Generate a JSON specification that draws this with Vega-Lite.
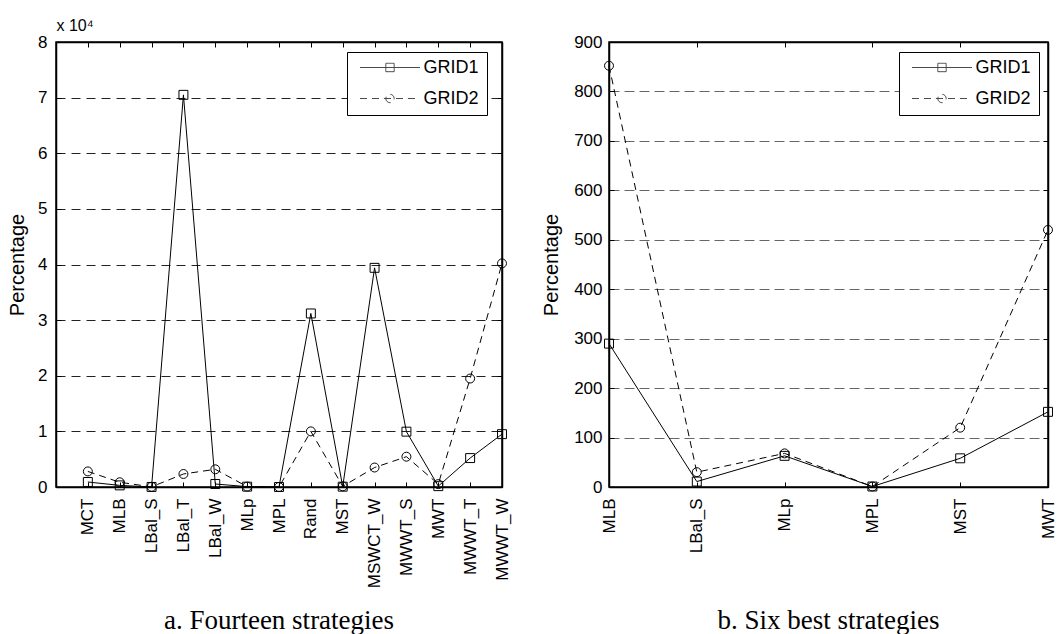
{
  "$schema": "https://vega.github.io/schema/vega-lite/v6.json",
  "padding": {"left": 6, "top": 16, "right": 5, "bottom": 0},
  "background": "white",
  "spacing": 29,
  "resolve": {"scale": {"shape": "independent", "strokeDash": "independent"}, "legend": {"shape": "independent", "strokeDash": "independent"}},
  "config": {
    "view": {"stroke": "black", "strokeWidth": 1.5},
    "axis": {
      "labelFont": "Liberation Sans", "labelFontSize": 17, "labelColor": "black",
      "titleFont": "Liberation Sans", "titleFontSize": 20, "titleFontWeight": "normal", "titleColor": "black",
      "domainColor": "black", "domainWidth": 1.5, "tickColor": "black", "tickWidth": 1, "tickSize": -5
    },
    "legend": {
      "title": null, "symbolSize": 3600, "clipHeight": 16, "rowPadding": 13, "padding": 7.5, "symbolOffset": 5,
      "labelFont": "Liberation Sans", "labelFontSize": 18, "labelColor": "black", "labelOffset": 3,
      "strokeColor": "black", "fillColor": "white", "symbolStrokeColor": "black", "symbolStrokeWidth": 1, "symbolFillColor": "transparent"
    },
    "title": {"font": "Liberation Serif", "fontSize": 27, "fontWeight": "normal", "color": "black"}
  },
  "datasets": {
    "left": [
      {"idx": 1, "name": "MCT", "series": "GRID1", "value": 900},
      {"idx": 2, "name": "MLB", "series": "GRID1", "value": 290},
      {"idx": 3, "name": "LBal_S", "series": "GRID1", "value": 11},
      {"idx": 4, "name": "LBal_T", "series": "GRID1", "value": 70500},
      {"idx": 5, "name": "LBal_W", "series": "GRID1", "value": 540},
      {"idx": 6, "name": "MLp", "series": "GRID1", "value": 63},
      {"idx": 7, "name": "MPL", "series": "GRID1", "value": 1},
      {"idx": 8, "name": "Rand", "series": "GRID1", "value": 31200},
      {"idx": 9, "name": "MST", "series": "GRID1", "value": 58},
      {"idx": 10, "name": "MSWCT_W", "series": "GRID1", "value": 39400},
      {"idx": 11, "name": "MWWT_S", "series": "GRID1", "value": 9950},
      {"idx": 12, "name": "MWT", "series": "GRID1", "value": 152},
      {"idx": 13, "name": "MWWT_T", "series": "GRID1", "value": 5200},
      {"idx": 14, "name": "MWWT_W", "series": "GRID1", "value": 9500},
      {"idx": 1, "name": "MCT", "series": "GRID2", "value": 2800},
      {"idx": 2, "name": "MLB", "series": "GRID2", "value": 852},
      {"idx": 3, "name": "LBal_S", "series": "GRID2", "value": 30},
      {"idx": 4, "name": "LBal_T", "series": "GRID2", "value": 2340},
      {"idx": 5, "name": "LBal_W", "series": "GRID2", "value": 3180},
      {"idx": 6, "name": "MLp", "series": "GRID2", "value": 68},
      {"idx": 7, "name": "MPL", "series": "GRID2", "value": 1},
      {"idx": 8, "name": "Rand", "series": "GRID2", "value": 10000},
      {"idx": 9, "name": "MST", "series": "GRID2", "value": 120},
      {"idx": 10, "name": "MSWCT_W", "series": "GRID2", "value": 3500},
      {"idx": 11, "name": "MWWT_S", "series": "GRID2", "value": 5450},
      {"idx": 12, "name": "MWT", "series": "GRID2", "value": 520},
      {"idx": 13, "name": "MWWT_T", "series": "GRID2", "value": 19500},
      {"idx": 14, "name": "MWWT_W", "series": "GRID2", "value": 40200}
    ],
    "right": [
      {"idx": 1, "name": "MLB", "series": "GRID1", "value": 290},
      {"idx": 2, "name": "LBal_S", "series": "GRID1", "value": 11},
      {"idx": 3, "name": "MLp", "series": "GRID1", "value": 63},
      {"idx": 4, "name": "MPL", "series": "GRID1", "value": 1},
      {"idx": 5, "name": "MST", "series": "GRID1", "value": 58},
      {"idx": 6, "name": "MWT", "series": "GRID1", "value": 152},
      {"idx": 1, "name": "MLB", "series": "GRID2", "value": 852},
      {"idx": 2, "name": "LBal_S", "series": "GRID2", "value": 30},
      {"idx": 3, "name": "MLp", "series": "GRID2", "value": 68},
      {"idx": 4, "name": "MPL", "series": "GRID2", "value": 1},
      {"idx": 5, "name": "MST", "series": "GRID2", "value": 120},
      {"idx": 6, "name": "MWT", "series": "GRID2", "value": 520}
    ]
  },
  "hconcat": [
    {
      "width": 446, "height": 445,
      "data": {"name": "left"},
      "title": {"text": "a. Fourteen strategies", "orient": "bottom", "offset": 20, "anchor": "middle"},
      "resolve": {"axis": {"x": "independent", "y": "independent"}},
      "layer": [
        {
          "transform": [{"filter": "datum.series === 'GRID1'"}],
          "mark": {"type": "line", "color": "black", "strokeWidth": 1},
          "encoding": {
            "x": {"field": "idx", "type": "quantitative", "scale": {"domain": [0, 14], "nice": false, "zero": false},
              "axis": {"orient": "bottom", "values": [1,2,3,4,5,6,7,8,9,10,11,12,13,14], "labelAngle": -90, "labelAlign": "right", "labelBaseline": "middle", "labelPadding": 16, "grid": false, "title": null,
                "labelExpr": "['','MCT','MLB','LBal_S','LBal_T','LBal_W','MLp','MPL','Rand','MST','MSWCT_W','MWWT_S','MWT','MWWT_T','MWWT_W'][datum.value]"}},
            "y": {"field": "value", "type": "quantitative", "scale": {"domain": [0, 80000], "nice": false},
              "axis": {"orient": "left", "values": [0,10000,20000,30000,40000,50000,60000,70000,80000], "labelExpr": "datum.value/10000", "labelPadding": 14, "grid": true, "gridColor": "#222", "gridDash": [9, 6], "gridWidth": 1, "title": "Percentage", "titlePadding": 10}}
          }
        },
        {
          "transform": [{"filter": "datum.series === 'GRID2'"}],
          "mark": {"type": "line", "color": "black", "strokeWidth": 1, "strokeDash": [7, 5]},
          "encoding": {
            "x": {"field": "idx", "type": "quantitative", "axis": null},
            "y": {"field": "value", "type": "quantitative", "axis": null}
          }
        },
        {
          "transform": [{"filter": "datum.series === 'GRID1'"}],
          "mark": {"type": "point", "shape": "square", "filled": false, "color": "black", "strokeWidth": 1, "size": 80, "opacity": 1},
          "encoding": {
            "x": {"field": "idx", "type": "quantitative",
              "axis": {"orient": "top", "values": [1,2,3,4,5,6,7,8,9,10,11,12,13,14], "labels": false, "grid": false, "title": "x 10⁴", "titleFontSize": 16, "titleAngle": 0, "titleAlign": "left", "titleAnchor": "start", "titleBaseline": "alphabetic", "titleX": 0, "titleY": -12}},
            "y": {"field": "value", "type": "quantitative",
              "axis": {"orient": "right", "values": [0,10000,20000,30000,40000,50000,60000,70000,80000], "labels": false, "grid": false, "title": null}}
          }
        },
        {
          "transform": [{"filter": "datum.series === 'GRID2'"}],
          "mark": {"type": "point", "shape": "circle", "filled": false, "color": "black", "strokeWidth": 1, "size": 80, "opacity": 1},
          "encoding": {
            "x": {"field": "idx", "type": "quantitative", "axis": null},
            "y": {"field": "value", "type": "quantitative", "axis": null}
          }
        },
        {
          "transform": [{"filter": "false"}],
          "mark": {"type": "point", "filled": false, "color": "black", "strokeWidth": 1},
          "encoding": {
            "shape": {"field": "series", "type": "nominal", "scale": {"domain": ["GRID1", "GRID2"], "range": ["M-1,0H1M-0.14,-0.14H0.14V0.14H-0.14Z", "M-1,0H1M-0.14,0A0.14,0.14,0,1,0,0.14,0A0.14,0.14,0,1,0,-0.14,0Z"]},
              "legend": {"orient": "none", "legendX": 291, "legendY": 10}},
            "strokeDash": {"field": "series", "type": "nominal", "scale": {"domain": ["GRID1", "GRID2"], "range": [[1, 0], [7, 5]]},
              "legend": {"orient": "none", "legendX": 291, "legendY": 10}}
          }
        }
      ]
    },
    {
      "width": 439, "height": 445,
      "data": {"name": "right"},
      "title": {"text": "b. Six best strategies", "orient": "bottom", "offset": 55, "anchor": "middle"},
      "resolve": {"axis": {"x": "independent", "y": "independent"}},
      "layer": [
        {
          "transform": [{"filter": "datum.series === 'GRID1'"}],
          "mark": {"type": "line", "color": "black", "strokeWidth": 1},
          "encoding": {
            "x": {"field": "idx", "type": "quantitative", "scale": {"domain": [1, 6], "nice": false, "zero": false},
              "axis": {"orient": "bottom", "values": [1,2,3,4,5,6], "labelAngle": -90, "labelAlign": "right", "labelBaseline": "middle", "labelPadding": 16, "grid": false, "title": null,
                "labelExpr": "['','MLB','LBal_S','MLp','MPL','MST','MWT'][datum.value]"}},
            "y": {"field": "value", "type": "quantitative", "scale": {"domain": [0, 900], "nice": false},
              "axis": {"orient": "left", "values": [0,100,200,300,400,500,600,700,800,900], "labelPadding": 12, "grid": true, "gridColor": "#666", "gridDash": [10, 5], "gridWidth": 1, "title": "Percentage", "titlePadding": 12}}
          }
        },
        {
          "transform": [{"filter": "datum.series === 'GRID2'"}],
          "mark": {"type": "line", "color": "black", "strokeWidth": 1, "strokeDash": [7, 5]},
          "encoding": {
            "x": {"field": "idx", "type": "quantitative", "axis": null},
            "y": {"field": "value", "type": "quantitative", "axis": null}
          }
        },
        {
          "transform": [{"filter": "datum.series === 'GRID1'"}],
          "mark": {"type": "point", "shape": "square", "filled": false, "color": "black", "strokeWidth": 1, "size": 80, "opacity": 1},
          "encoding": {
            "x": {"field": "idx", "type": "quantitative",
              "axis": {"orient": "top", "values": [1,2,3,4,5,6], "labels": false, "grid": false, "title": null}},
            "y": {"field": "value", "type": "quantitative",
              "axis": {"orient": "right", "values": [0,100,200,300,400,500,600,700,800,900], "labels": false, "grid": false, "title": null}}
          }
        },
        {
          "transform": [{"filter": "datum.series === 'GRID2'"}],
          "mark": {"type": "point", "shape": "circle", "filled": false, "color": "black", "strokeWidth": 1, "size": 80, "opacity": 1},
          "encoding": {
            "x": {"field": "idx", "type": "quantitative", "axis": null},
            "y": {"field": "value", "type": "quantitative", "axis": null}
          }
        },
        {
          "transform": [{"filter": "false"}],
          "mark": {"type": "point", "filled": false, "color": "black", "strokeWidth": 1},
          "encoding": {
            "shape": {"field": "series", "type": "nominal", "scale": {"domain": ["GRID1", "GRID2"], "range": ["M-1,0H1M-0.14,-0.14H0.14V0.14H-0.14Z", "M-1,0H1M-0.14,0A0.14,0.14,0,1,0,0.14,0A0.14,0.14,0,1,0,-0.14,0Z"]},
              "legend": {"orient": "none", "legendX": 290, "legendY": 10}},
            "strokeDash": {"field": "series", "type": "nominal", "scale": {"domain": ["GRID1", "GRID2"], "range": [[1, 0], [7, 5]]},
              "legend": {"orient": "none", "legendX": 290, "legendY": 10}}
          }
        }
      ]
    }
  ]
}
